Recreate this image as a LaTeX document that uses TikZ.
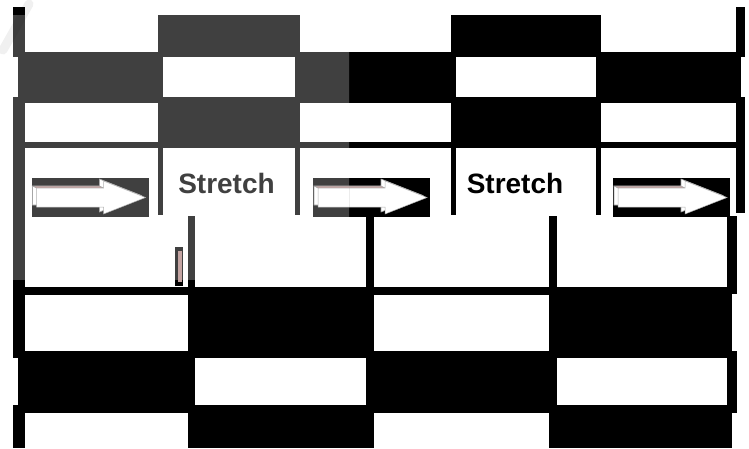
\documentclass[tikz,border=0pt]{standalone}
\usepackage{fontspec}
\setmainfont{Liberation Sans}
\definecolor{ovl}{HTML}{404040}
\definecolor{pinkface}{HTML}{C4A4A2}
\tikzset{
  stretchtxt/.style={font=\bfseries\fontsize{28}{30}\selectfont, inner sep=0pt, anchor=base},
  pics/blockarrow/.style={code={
     \fill[#1] (0,0) rectangle (117,39);
     \filldraw[fill=white, draw=gray!70, line width=0.6pt] (1,8) -- (68,8) -- (68,1) -- (110,17.5) -- (68,34) -- (68,27) -- (1,27) -- cycle;
     \filldraw[fill=pinkface, draw=gray!70, line width=0.5pt] (1,8) -- (68,8) -- (72,10) -- (5,10) -- cycle;
     \filldraw[fill=white, draw=gray!60, line width=0.5pt] (5,10) -- (72,10) -- (72,3) -- (114,19.5) -- (72,36) -- (72,29) -- (5,29) -- cycle;
  }}
}
\newcommand\inkpass[2]{%
  % top section
  \fill[#1] (13,7) rectangle (25,57);
  \fill[#1] (13,97) rectangle (25,358);
  \fill[#1] (736,7) rectangle (745,57);
  \fill[#1] (736,97) rectangle (745,213);
  \fill[#1] (18,52) rectangle (163,103);
  \fill[#1] (295,52) rectangle (456,103);
  \fill[#1] (596,52) rectangle (741,103);
  \fill[#1] (158,15) rectangle (300,57);
  \fill[#1] (158,97) rectangle (300,148);
  \fill[#1] (451,15) rectangle (601,57);
  \fill[#1] (451,97) rectangle (601,148);
  \fill[#1] (13,142) rectangle (745,148);
  \fill[#1] (158,148) rectangle (163,215);
  \fill[#1] (295,148) rectangle (300,215);
  \fill[#1] (451,148) rectangle (456,215);
  \fill[#1] (596,148) rectangle (601,215);
  \pic (arrA#2) at (31.5,178) {blockarrow=#1};
  \pic (arrB#2) at (313,178) {blockarrow=#1};
  \pic (arrC#2) at (613,178) {blockarrow=#1};
  \node[stretchtxt, text=#1] (stretchA#2) at (226.5,193) {Stretch};
  \node[stretchtxt, text=#1] (stretchB#2) at (515,193) {Stretch};
  % bottom section
  \fill[#1] (727,216) rectangle (737,294);
  \fill[#1] (727,351) rectangle (737,413);
  \fill[#1] (13,405) rectangle (25,448);
  \fill[#1] (188,216) rectangle (195,287);
  \fill[#1] (366,216) rectangle (374,287);
  \fill[#1] (549,216) rectangle (557,287);
  \fill[#1] (25,287) rectangle (727,295);
  \fill[#1] (18,351) rectangle (195,413);
  \fill[#1] (188,287) rectangle (374,358);
  \fill[#1] (188,405) rectangle (374,448);
  \fill[#1] (366,351) rectangle (557,413);
  \fill[#1] (549,287) rectangle (732,358);
  \fill[#1] (549,405) rectangle (732,448);
  % thin sliver
  \fill[#1] (175,247) rectangle (183,286);
  \fill[pinkface] (178,251) rectangle (181.5,282);
}
\begin{document}
\begin{tikzpicture}[x=1pt,y=-1pt]
  \useasboundingbox (0,0) rectangle (749,448);
  \fill[white] (0,0) rectangle (749,448);
  \inkpass{black}{k}
  \begin{scope}
    \clip (13,15) rectangle (349,279);
    \fill[white] (13,15) rectangle (349,279);
    \inkpass{ovl}{g}
  \end{scope}
  \draw[line width=9pt, black, opacity=0.06, line cap=round] (29,4) -- (3,50);
\end{tikzpicture}
\end{document}
